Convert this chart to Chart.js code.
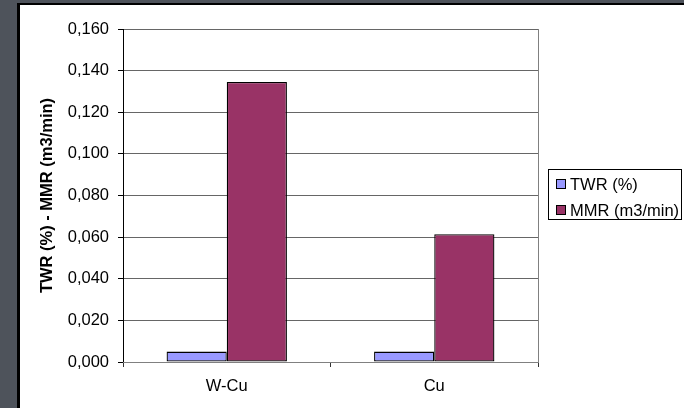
<!DOCTYPE html>
<html>
<head>
<meta charset="utf-8">
<script src="https://cdn.jsdelivr.net/npm/chart.js@4"></script>
<style>
  html, body { margin: 0; padding: 0; background: #fff; }
  #wrap { width: 684px; height: 408px; }
</style>
</head>
<body>
<div id="wrap"><canvas id="chart" width="684" height="408"></canvas></div>
<script>
// Values
const categories = ['W-Cu', 'Cu'];
const twrValues = [0.005, 0.005];
const mmrValues = [0.1345, 0.0614];
const yTickLabels = ['0,000', '0,020', '0,040', '0,060', '0,080', '0,100', '0,120', '0,140', '0,160'];

const FONT = '"Liberation Sans", Arial, sans-serif';

// Dark frame on the left / top, like the original screenshot
const framePlugin = {
    id: 'frame',
    beforeDraw: function(chart) {
        const c = chart.ctx;
        c.save();
        c.fillStyle = '#fff';
        c.fillRect(0, 0, chart.width, chart.height);
        c.fillStyle = '#4e535b';
        c.fillRect(0, 0, 17, chart.height);
        c.fillRect(0, 0, chart.width, 3);
        c.fillStyle = '#000';
        c.fillRect(17, 3, 3, chart.height);
        c.fillRect(17, 3, chart.width, 2);
        c.restore();
    },
    afterDraw: function(chart) {
        const c = chart.ctx;
        const a = chart.chartArea;
        c.save();
        // right edge of plot area
        c.strokeStyle = '#808080';
        c.lineWidth = 1;
        c.beginPath();
        c.moveTo(Math.round(a.right) + 0.5, a.top);
        c.lineTo(Math.round(a.right) + 0.5, a.bottom);
        c.stroke();

        // legend box
        c.strokeStyle = '#000';
        c.strokeRect(548.5, 169.5, 133, 50);
        c.font = '16.5px ' + FONT;
        c.textBaseline = 'middle';
        chart.data.datasets.forEach(function(ds, i) {
            const y = 184 + i * 26;
            c.fillStyle = ds.backgroundColor;
            c.fillRect(556, y - 5, 10, 10);
            c.strokeRect(556.5, y - 4.5, 9, 9);
            c.fillStyle = '#000';
            c.fillText(ds.label, 570, y + 1);
        });
        c.restore();
    }
};

new Chart(document.getElementById('chart'), {
    type: 'bar',
    data: {
        labels: categories,
        datasets: [{
            label: 'TWR (%)',
            data: twrValues,
            backgroundColor: '#9999ff',
            borderColor: '#000',
            borderWidth: 1.3,
            borderSkipped: false
        }, {
            label: 'MMR (m3/min)',
            data: mmrValues,
            backgroundColor: '#993366',
            borderColor: '#000',
            borderWidth: 1.3,
            borderSkipped: false
        }]
    },
    options: {
        responsive: false,
        animation: false,
        layout: {
            padding: { left: 20, top: 29, right: 146, bottom: 0 }
        },
        datasets: {
            bar: {
                categoryPercentage: 0.58,
                barPercentage: 1.0
            }
        },
        plugins: {
            legend: { display: false },
            tooltip: { enabled: false }
        },
        scales: {
            y: {
                min: 0,
                max: 0.16,
                ticks: {
                    stepSize: 0.02,
                    padding: 9,
                    color: '#000',
                    font: { family: FONT, size: 16.5 },
                    callback: function(value, index) { return yTickLabels[index]; }
                },
                grid: {
                    color: '#666',
                    tickColor: '#000',
                    tickLength: 5
                },
                border: { color: '#000' },
                title: {
                    display: true,
                    text: 'TWR (%) - MMR (m3/min)',
                    color: '#000',
                    font: { family: FONT, size: 16.5, weight: 'bold' },
                    padding: { top: 18, bottom: 0 }
                },
                afterFit: function(scale) { scale.width = 103; }
            },
            x: {
                ticks: {
                    padding: 10,
                    color: '#000',
                    font: { family: FONT, size: 16.5 }
                },
                grid: {
                    drawOnChartArea: false,
                    tickColor: '#333',
                    tickLength: 5
                },
                border: { color: '#808080' },
                afterFit: function(scale) { scale.height = 46; }
            }
        }
    },
    plugins: [framePlugin]
});
</script>
</body>
</html>
